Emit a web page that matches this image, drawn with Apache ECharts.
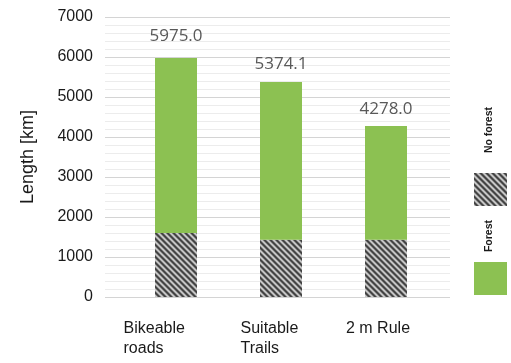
<!DOCTYPE html>
<html>
<head>
<meta charset="utf-8">
<script src="https://cdn.jsdelivr.net/npm/echarts@6/dist/echarts.min.js"></script>
<style>html,body{margin:0;padding:0;background:#fff;}#c{width:511px;height:363px;}</style>
</head>
<body>
<div id="c"></div>
<script>
const categories = ['Bikeable\nroads', 'Suitable\nTrails', '2 m Rule'];
const noForest = [1600, 1430, 1430];
const forest = [4375, 3944.1, 2848];
const totals = [5975.0, 5374.1, 4278.0];
const yTicks = [0, 1000, 2000, 3000, 4000, 5000, 6000, 7000];
const seriesNames = ['No forest', 'Forest'];

// hatch pattern
function makeHatch() {
  const s = 6;
  const cv = document.createElement('canvas');
  cv.width = s; cv.height = s;
  const ctx = cv.getContext('2d');
  const img = ctx.createImageData(s, s);
  for (let y = 0; y < s; y++) {
    for (let x = 0; x < s; x++) {
      const d = ((x - y) % s + s) % s;
      let v;
      if (d < 2) v = 0x44;
      else if (d === 2 || d === 5) v = 0x80;
      else v = 0xc6;
      const i = (y * s + x) * 4;
      img.data[i] = v; img.data[i+1] = v; img.data[i+2] = v; img.data[i+3] = 255;
    }
  }
  ctx.putImageData(img, 0, 0);
  return { image: cv, repeat: 'repeat' };
}
const hatch = makeHatch();
const green = '#8cc152';
const labelDist = [13, 9, 8];

const chart = echarts.init(document.getElementById('c'), null, { renderer: 'canvas' });
const option = {
  animation: false,
  backgroundColor: '#ffffff',
  grid: [
    { left: 105, right: 61, top: 17, bottom: 66 },
    { left: 123.5, right: 72.5, top: 17, bottom: 66 }
  ],
  xAxis: [
    { gridIndex: 0, type: 'category', data: categories, show: false },
    {
      gridIndex: 1, type: 'category', data: categories,
      axisLine: { show: false }, axisTick: { show: false },
      axisLabel: {
        margin: 22,
        align: 'center',
        formatter: (v, i) => v.split('\n').map(t => '{c' + i + '|' + t + '}').join('\n'),
        rich: {
          c0: { width: 105, align: 'left', fontSize: 16, lineHeight: 20, color: '#1a1a1a', fontFamily: 'Liberation Sans' },
          c1: { width: 81, align: 'left', fontSize: 16, lineHeight: 20, color: '#1a1a1a', fontFamily: 'Liberation Sans' },
          c2: { width: 80, align: 'left', fontSize: 16, lineHeight: 20, color: '#1a1a1a', fontFamily: 'Liberation Sans' }
        }
      }
    }
  ],
  yAxis: [
    {
      gridIndex: 0, type: 'value', min: yTicks[0], max: yTicks[yTicks.length - 1], interval: 1000,
      name: 'Length [km]', nameLocation: 'middle', nameRotate: 90, nameGap: 68,
      nameTextStyle: { fontSize: 18, color: '#1a1a1a', fontFamily: 'Liberation Sans' },
      axisLine: { show: false }, axisTick: { show: false },
      axisLabel: { margin: 12, fontSize: 16, color: '#1a1a1a', fontFamily: 'Liberation Sans', formatter: v => String(v) },
      splitLine: { show: true, lineStyle: { color: '#d4d4d4', width: 1.2 } },
      minorTick: { show: false, splitNumber: 5 },
      minorSplitLine: { show: true, lineStyle: { color: '#ececec', width: 1 } }
    },
    {
      gridIndex: 1, type: 'value', min: yTicks[0], max: yTicks[yTicks.length - 1], interval: 1000,
      show: false, splitLine: { show: false }
    }
  ],
  legend: {
    orient: 'vertical', left: 474, top: 173, padding: 0, itemWidth: 33, itemHeight: 33, itemGap: 56,
    icon: 'rect', data: seriesNames, formatter: () => '', textStyle: { fontSize: 1 }
  },
  graphic: [
    { type: 'text', x: 489, y: 130, rotation: Math.PI / 2,
      style: { text: seriesNames[0], align: 'center', verticalAlign: 'middle', font: 'bold 10.5px "Liberation Sans"', fill: '#1a1a1a' } },
    { type: 'text', x: 489, y: 236, rotation: Math.PI / 2,
      style: { text: seriesNames[1], align: 'center', verticalAlign: 'middle', font: 'bold 10.5px "Liberation Sans"', fill: '#1a1a1a' } }
  ],
  series: [
    {
      name: seriesNames[0], type: 'bar', stack: 'total', xAxisIndex: 1, yAxisIndex: 1,
      barWidth: 42, data: noForest, itemStyle: { color: hatch }
    },
    {
      name: seriesNames[1], type: 'bar', stack: 'total', xAxisIndex: 1, yAxisIndex: 1,
      barWidth: 42, itemStyle: { color: green },
      data: forest.map((v, i) => ({ value: v, label: { distance: labelDist[i] } })),
      label: {
        show: true, position: 'top', fontSize: 17, lineHeight: 17, color: '#595959', fontFamily: 'Open Sans',
        formatter: p => totals[p.dataIndex].toFixed(1)
      }
    }
  ]
};
chart.setOption(option);
</script>
</body>
</html>
